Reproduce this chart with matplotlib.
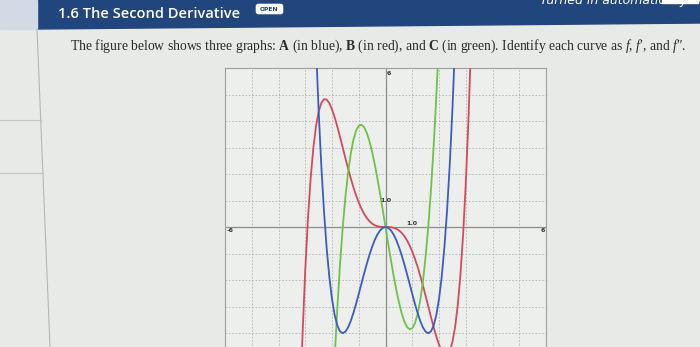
import matplotlib.pyplot as plt
from matplotlib.patches import Polygon, Rectangle, FancyBboxPatch

plt.rcParams['mathtext.fontset'] = 'custom'
plt.rcParams['mathtext.rm'] = 'Liberation Serif'
plt.rcParams['mathtext.it'] = 'Liberation Serif:italic'
plt.rcParams['mathtext.bf'] = 'Liberation Serif:bold'

# curve A (blue)
x_a = [-2.7, -2.6, -2.5, -2.4, -2.3, -2.2, -2.1, -2.0, -1.9, -1.8, -1.7, -1.6, -1.5, -1.4,
       -1.3, -1.2, -1.1, -1.0, -0.9, -0.8, -0.7, -0.6, -0.5, -0.4, -0.3, -0.2, -0.1, 0.0,
       0.1, 0.2, 0.3, 0.4, 0.5, 0.6, 0.7, 0.8, 0.9, 1.0, 1.1, 1.2, 1.3, 1.4,
       1.5, 1.6, 1.7, 1.8, 1.9, 2.0, 2.1, 2.2, 2.3, 2.4, 2.5, 2.6, 2.7]
y_a = [9.79, 6.878, 4.398, 2.318, 0.600, -0.791, -1.887, -2.720, -3.321, -3.718, -3.938, -4.008, -3.952, -3.792,
       -3.550, -3.246, -2.899, -2.525, -2.140, -1.758, -1.391, -1.051, -0.747, -0.487, -0.278, -0.125, -0.031, 0.0,
       -0.031, -0.125, -0.278, -0.487, -0.747, -1.051, -1.391, -1.758, -2.140, -2.525, -2.899, -3.246, -3.550, -3.792,
       -3.952, -4.008, -3.938, -3.718, -3.321, -2.720, -1.887, -0.791, 0.600, 2.318, 4.398, 6.878, 9.79]

# curve B (red)
x_b = [-3.2, -3.1, -3.0, -2.9, -2.8, -2.7, -2.6, -2.5, -2.4, -2.3, -2.2, -2.1, -2.0, -1.9, -1.8, -1.7,
       -1.6, -1.5, -1.4, -1.3, -1.2, -1.1, -1.0, -0.9, -0.8, -0.7, -0.6, -0.5, -0.4, -0.3, -0.2, -0.1, 0.0,
       0.1, 0.2, 0.3, 0.4, 0.5, 0.6, 0.7, 0.8, 0.9, 1.0, 1.1, 1.2, 1.3, 1.4, 1.5, 1.6,
       1.7, 1.8, 1.9, 2.0, 2.1, 2.2, 2.3, 2.4, 2.5, 2.6, 2.7, 2.8, 2.9, 3.0, 3.1, 3.2]
y_b = [-6.964, -4.023, -1.620, 0.307, 1.815, 2.959, 3.788, 4.348, 4.680, 4.822, 4.809, 4.673, 4.440, 4.136, 3.782, 3.397,
       2.999, 2.600, 2.211, 1.844, 1.503, 1.195, 0.924, 0.691, 0.496, 0.338, 0.217, 0.127, 0.066, 0.028, 0.008, 0.001, 0.0,
       -0.001, -0.008, -0.028, -0.066, -0.127, -0.217, -0.338, -0.496, -0.691, -0.924, -1.195, -1.503, -1.844, -2.211, -2.600, -2.999,
       -3.397, -3.782, -4.136, -4.440, -4.673, -4.809, -4.822, -4.680, -4.348, -3.788, -2.959, -1.815, -0.307, 1.620, 4.023, 6.964]

# curve C (green)
x_c = [-2.0, -1.9, -1.8, -1.7, -1.6, -1.5, -1.4, -1.3, -1.2, -1.1, -1.0, -0.9, -0.8, -0.7, -0.6, -0.5, -0.4,
       -0.3, -0.2, -0.1, 0.0, 0.1, 0.2, 0.3, 0.4, 0.5, 0.6, 0.7, 0.8, 0.9, 1.0, 1.1, 1.2, 1.3, 1.4,
       1.5, 1.6, 1.7, 1.8, 1.9, 2.0]
y_c = [-7.120, -4.941, -3.043, -1.410, -0.028, 1.118, 2.042, 2.759, 3.285, 3.634, 3.820, 3.859, 3.764, 3.552, 3.237, 2.833, 2.355,
       1.818, 1.236, 0.626, 0.0, -0.626, -1.236, -1.818, -2.355, -2.833, -3.237, -3.552, -3.764, -3.859, -3.820, -3.634, -3.285, -2.759, -2.042,
       -1.118, 0.028, 1.410, 3.043, 4.941, 7.120]

title = "1.6 The Second Derivative"
question = (r"The figure below shows three graphs: $\mathbf{A}$ (in blue), $\mathbf{B}$ (in red), "
            r"and $\mathbf{C}$ (in green). Identify each curve as $f$, $f$′, and $f$″.")

fig = plt.figure(figsize=(7, 3.47), dpi=100)
fig.patch.set_facecolor('#e7eae6')

# page layer in pixel coordinates
bg = fig.add_axes([0, 0, 1, 1])
bg.set_xlim(0, 700)
bg.set_ylim(347, 0)
bg.axis('off')
bg.add_patch(Polygon([(37, 0), (700, 0), (700, 23), (37, 29)], closed=True, color='#21457d'))
bg.add_patch(Rectangle((0, 0), 37, 29, color='#d2dbe5'))
bg.plot([37, 50], [29, 347], color='#b4b7b4', lw=0.8)
bg.plot([0, 41], [120, 120], color='#c2c5c2', lw=0.8)
bg.plot([0, 43], [173, 173], color='#c2c5c2', lw=0.8)
bg.text(58, 14, title, color='white', fontsize=10.5, family='Open Sans', weight='semibold', va='center')
bg.add_patch(FancyBboxPatch((257, 5), 25, 8, boxstyle='round,pad=0.6,rounding_size=2', color='white'))
bg.text(269.5, 9.2, 'OPEN', color='#21457d', fontsize=4.3, weight='bold', ha='center', va='center')
bg.text(540, 4, 'Turned in automatically when', color='white', fontsize=9, style='italic', va='baseline')
bg.add_patch(Rectangle((662, 0), 36, 3, color='white'))
bg.text(70, 50, question, color='#2c2c2c', fontsize=9.85, family='Liberation Serif', va='baseline')

# graph
ax = fig.add_axes([225 / 700, (347 - 386) / 347, 321 / 700, 318 / 347])
ax.set_facecolor('#edefec')
ax.set_xlim(-6, 6)
ax.set_ylim(-6, 6)
ax.set_xticks(range(-6, 7))
ax.set_yticks(range(-6, 7))
ax.tick_params(length=0, labelbottom=False, labelleft=False)
ax.grid(True, color='#b0b4b0', lw=0.6, linestyle=(0, (2, 2)))
for s in ax.spines.values():
    s.set_color('#9c9f9c')
    s.set_linewidth(0.8)
ax.axhline(0, color='#8c8f8c', lw=0.9)
ax.axvline(0, color='#8c8f8c', lw=0.9)

ax.plot(x_b, y_b, color='#d9475c', lw=1.3, zorder=3)
ax.plot(x_c, y_c, color='#6cc24a', lw=1.3, zorder=3)
ax.plot(x_a, y_a, color='#3a5cc4', lw=1.3, zorder=4)

lab = dict(fontsize=4.5, color='#333333', weight='bold')
ax.text(-5.95, -0.05, '-6', ha='left', va='top', **lab)
ax.text(5.95, -0.05, '6', ha='right', va='top', **lab)
ax.text(1.0, 0.05, '1.0', ha='center', va='bottom', **lab)
ax.text(0.0, 1.0, '1.0', ha='center', va='center', **lab)
ax.text(0.05, 5.9, '6', ha='left', va='top', **lab)

fig.savefig('out.png', dpi=100, facecolor=fig.get_facecolor())
